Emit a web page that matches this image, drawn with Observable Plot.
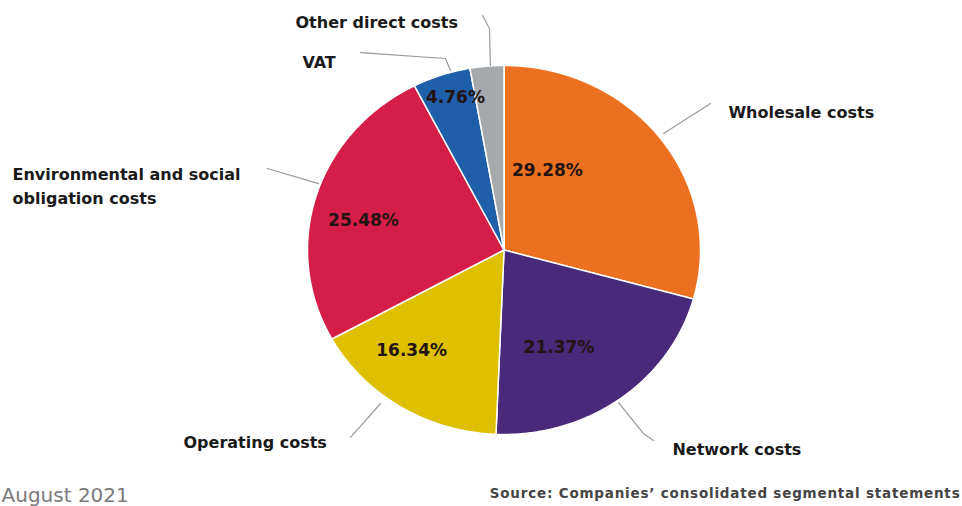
<!DOCTYPE html>
<html>
<head>
<meta charset="utf-8">
<script src="https://cdn.jsdelivr.net/npm/d3@7"></script>
<script src="https://cdn.jsdelivr.net/npm/@observablehq/plot@0.6"></script>
<style>
  html, body { margin: 0; padding: 0; background: #fff; }
  #chart { width: 962px; height: 506px; overflow: hidden; }
</style>
</head>
<body>
<div id="chart"></div>
<script>
// ---- data (clockwise from 12 o'clock) ----
const categories = ["Wholesale costs", "Network costs", "Operating costs",
  "Environmental and social obligation costs", "VAT", "Other direct costs"];
const shares = [29.28, 21.37, 16.34, 25.48, 4.76, 2.77];
const pctLabels = ["29.28%", "21.37%", "16.34%", "25.48%", "4.76%", ""];
const nameLabels = ["Wholesale costs", "Network costs", "Operating costs",
  "Environmental and social\nobligation costs", "VAT", "Other direct costs"];
const sourceText = "Source: Companies’ consolidated segmental statements";
const dateText = "August 2021";

// ---- styling / layout ----
const colors = ["#eb7121", "#48297a", "#dfc000", "#d41e47", "#1f5ea9", "#a6a9ac"];
const cx = 503.5, cy = 249.5, rx = 196.5, ry = 184.5;
// label anchors in pie-radius units (u right, v up)
const pctPos = [[0.221, 0.431], [0.280, -0.528], [-0.470, -0.545], [-0.715, 0.160], [-0.247, 0.827], [0, 0]];
const namePos = [[1.142, 0.756], [0.857, -1.070], [-1.631, -1.033], [-2.501, 0.355], [-1.026, 1.027], [-1.061, 1.244]];
const leaders = [
  [[0.812, 0.631], [1.051, 0.794]],
  [[0.583, -0.827], [0.710, -0.995], [0.761, -1.033]],
  [[-0.628, -0.832], [-0.781, -1.016]],
  [[-1.204, 0.442], [-0.944, 0.360]],
  [[-0.730, 1.070], [-0.298, 1.038], [-0.272, 0.973]],
  [[-0.109, 1.271], [-0.074, 1.201], [-0.069, 1.000]]
];

// ---- build slice outlines from shares ----
const total = d3.sum(shares);
const slicePts = [];
let acc = 0;
shares.forEach((s, i) => {
  const a0 = acc / total * 2 * Math.PI;
  acc += s;
  const a1 = acc / total * 2 * Math.PI;
  slicePts.push({cat: categories[i], u: 0, v: 0});
  const n = Math.max(2, Math.ceil((a1 - a0) / (Math.PI / 360)));
  for (let k = 0; k <= n; k++) {
    const a = a0 + (a1 - a0) * k / n;
    slicePts.push({cat: categories[i], u: Math.sin(a), v: Math.cos(a)});
  }
});

const pctData = categories.map((c, i) => ({text: pctLabels[i], u: pctPos[i][0], v: pctPos[i][1]})).filter(d => d.text);
const nameData = categories.map((c, i) => ({text: nameLabels[i], u: namePos[i][0], v: namePos[i][1]}));
const leaderData = leaders.flatMap((pts, i) => pts.map(p => ({id: i, u: p[0], v: p[1]})));

const chart = Plot.plot({
  width: 962,
  height: 506,
  margin: 0,
  x: {domain: [-1, 1], range: [cx - rx, cx + rx], axis: null},
  y: {domain: [-1, 1], range: [cy + ry, cy - ry], axis: null},
  color: {domain: categories, range: colors},
  style: {fontFamily: "'DejaVu Sans', Verdana, sans-serif", background: "#fff"},
  marks: [
    Plot.line(slicePts, {x: "u", y: "v", z: "cat", fill: "cat", stroke: "#fff", strokeWidth: 1.5, curve: "linear-closed", strokeLinejoin: "round"}),
    Plot.line(leaderData, {x: "u", y: "v", z: "id", stroke: "#9a9a9a", strokeWidth: 1.2}),
    Plot.text(pctData, {x: "u", y: "v", text: "text", fontSize: 17, fontWeight: "bold", fill: "#241414"}),
    Plot.text(nameData, {x: "u", y: "v", text: "text", textAnchor: "start", fontSize: 16, fontWeight: "bold", fill: "#1a1a1a", lineHeight: 1.5}),
    Plot.text([sourceText], {x: [2.323], y: [-1.320], text: d => d, textAnchor: "end", fontSize: 13.5, fontWeight: "bold", fill: "#444"}),
    Plot.text([dateText], {x: [-2.557], y: [-1.330], text: d => d, textAnchor: "start", fontSize: 20, fill: "#7a7a7a"})
  ]
});
d3.select(chart).selectAll("text")
  .filter(function () { return this.textContent === sourceText; })
  .attr("letter-spacing", "0.8px");
document.getElementById("chart").appendChild(chart);
</script>
</body>
</html>
